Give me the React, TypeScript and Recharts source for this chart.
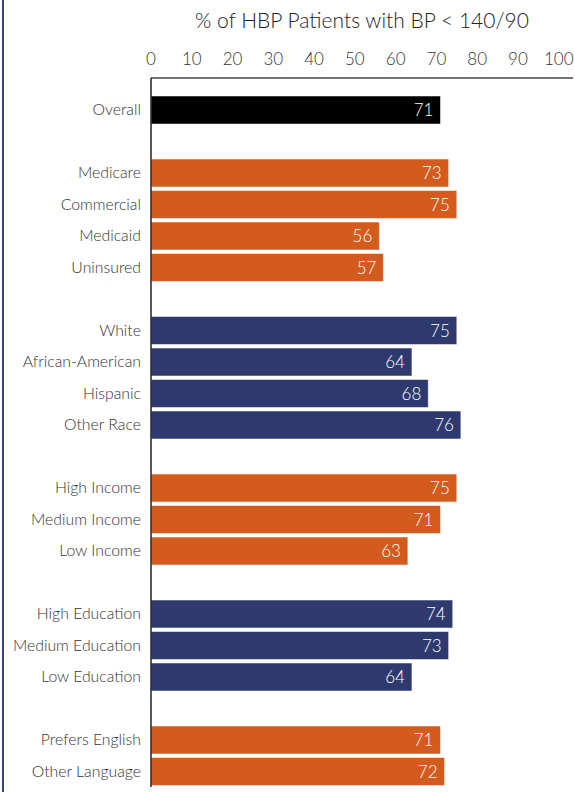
import { BarChart, Bar, XAxis, YAxis, Cell, LabelList } from "recharts";

// row labels, blank rows ("gap*") separate the groups
const categories = [
  "Overall",
  "gap1",
  "Medicare",
  "Commercial",
  "Medicaid",
  "Uninsured",
  "gap2",
  "White",
  "African-American",
  "Hispanic",
  "Other Race",
  "gap3",
  "High Income",
  "Medium Income",
  "Low Income",
  "gap4",
  "High Education",
  "Medium Education",
  "Low Education",
  "gap5",
  "Prefers English",
  "Other Language",
];

const values = [
  71, null, 73, 75, 56, 57, null, 75, 64, 68, 76, null, 75, 71, 63, null, 74, 73, 64, null, 71, 72,
];

const groups = [
  "all", "", "pay", "pay", "pay", "pay", "", "race", "race", "race", "race", "",
  "inc", "inc", "inc", "", "edu", "edu", "edu", "", "lang", "lang",
];

const xTicks = [0, 10, 20, 30, 40, 50, 60, 70, 80, 90, 100];

const groupColors: Record<string, string> = {
  all: "#000000",
  pay: "#D35B1E",
  race: "#2E3A6E",
  inc: "#D35B1E",
  edu: "#2E3A6E",
  lang: "#D35B1E",
};

const rows = categories.map((name, i) => ({
  name,
  value: values[i],
  group: groups[i],
}));

const FONT = "Lato, 'Noto Sans', sans-serif";

const App = () => {
  return (
    <div
      style={{
        position: "fixed",
        left: 0,
        top: 0,
        width: 575,
        height: 792,
        background: "#fff",
        overflow: "hidden",
        fontFamily: FONT,
      }}
    >
      {/* page border on the left */}
      <div
        style={{
          position: "absolute",
          left: 2,
          top: 0,
          width: 2,
          height: 792,
          background: "#3A4580",
        }}
      />
      {/* title */}
      <div
        style={{
          position: "absolute",
          left: 151,
          width: 422,
          top: 7,
          textAlign: "center",
          fontSize: 21,
          fontWeight: 300,
          color: "#222",
        }}
      >
        % of HBP Patients with BP &lt; 140/90
      </div>

      <div style={{ position: "absolute", left: 0, top: 0 }}>
        <BarChart
          width={575}
          height={792}
          data={rows}
          layout="vertical"
          margin={{ top: 0, right: 2, left: 0, bottom: 5 }}
          barSize={28}
        >
          <XAxis
            type="number"
            orientation="top"
            domain={[0, 103.5]}
            ticks={xTicks}
            height={78}
            tickLine={false}
            tickMargin={7}
            axisLine={{ stroke: "#444", strokeWidth: 1.5 }}
            tick={{ fill: "#333", fontSize: 17, fontWeight: 300, fontFamily: FONT }}
          />
          <YAxis
            type="category"
            dataKey="name"
            width={151}
            padding={{ top: 16, bottom: 0 }}
            tickLine={false}
            tickMargin={4}
            interval={0}
            axisLine={{ stroke: "#222", strokeWidth: 1.5 }}
            tick={{ fill: "#333", fontSize: 15.8, fontWeight: 300, fontFamily: FONT }}
            tickFormatter={(v: string) => (v.startsWith("gap") ? "" : v)}
          />
          <Bar
            dataKey="value"
            isAnimationActive={false}
            stroke="#ffffff"
            strokeOpacity={0.5}
            strokeWidth={1}
          >
            {rows.map((r, i) => (
              <Cell key={i} fill={groupColors[r.group] || "#fff"} />
            ))}
            <LabelList
              dataKey="value"
              position="insideRight"
              offset={7}
              fill="#ffffff"
              style={{ fontSize: 17, fontWeight: 300, fontFamily: FONT }}
            />
          </Bar>
        </BarChart>
      </div>
    </div>
  );
};

export default App;
